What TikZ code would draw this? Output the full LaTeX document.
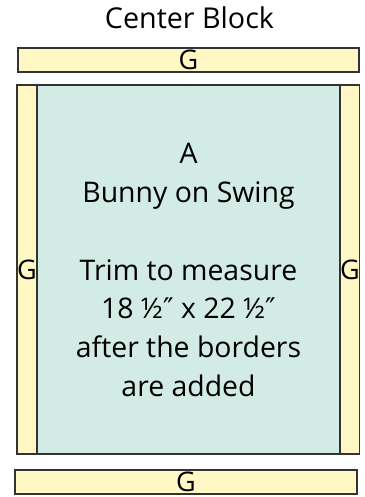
\documentclass[tikz,border=0pt]{standalone}
\usepackage{fontspec}
\setmainfont{Open Sans}
\newfontfamily\primefont{DejaVu Sans}
\usepackage{xcolor}
\usetikzlibrary{positioning}
\definecolor{borderyellow}{HTML}{FFF8C4}
\definecolor{centermint}{HTML}{D3EBE5}
\definecolor{edgegray}{HTML}{333333}
\newcommand{\inchmark}{{\primefont ″}}
\tikzset{
  piece/.style={draw=edgegray, line width=1.3pt, inner sep=0pt, outer sep=0pt,
                font=\fontsize{27}{27}\selectfont},
  gbar/.style={piece, fill=borderyellow, minimum height=24pt},
  gstrip/.style={piece, fill=borderyellow, minimum height=369pt},
  centerpanel/.style={piece, fill=centermint, minimum height=369pt, minimum width=303pt},
  titletext/.style={font=\fontsize{28.7}{28.7}\selectfont},
  blocktext/.style={align=center, font=\fontsize{28.4}{38.7}\selectfont}
}
\begin{document}
\begin{tikzpicture}[x=1pt, y=-1pt]
\useasboundingbox (0,0) rectangle (364,497);

% Title
\node[titletext, anchor=base] (title) at (189.5,29) {Center Block};

% Top border strip
\node[gbar, minimum width=341pt] (topbar) at (188.5,60) {G};

% Center block with side strips
\node[centerpanel] (panel) at (188.5,269.5) {};
\node[gstrip, minimum width=20pt, left=0pt of panel] (leftstrip) {G};
\node[gstrip, minimum width=19pt, right=0pt of panel] (rightstrip) {G};
\node[blocktext] (label) at (188.5,270) {A\\Bunny on Swing\\[38.7pt]Trim to measure\\18 ½\inchmark{} x 22 ½\inchmark\\after the borders\\are added};

% Bottom border strip
\node[gbar, minimum width=342pt] (bottombar) at (186,482) {G};

\end{tikzpicture}
\end{document}
